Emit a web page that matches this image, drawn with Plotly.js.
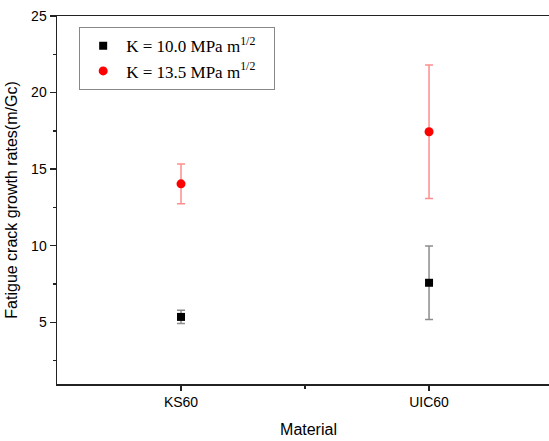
<!DOCTYPE html>
<html>
<head>
<meta charset="utf-8">
<script src="https://cdn.plot.ly/plotly-3.0.1.min.js"></script>
<style>html,body{margin:0;padding:0;background:#fff;overflow:hidden;width:549px;height:441px}#wrap{width:549px;height:441px;overflow:hidden}</style>
</head>
<body>
<div id="wrap"><div id="chart" style="width:560px;height:441px"></div></div>
<script>
const materials = ["KS60", "UIC60"];
const materialPos = [1, 2];
const seriesNames = ["K = 10.0 MPa m<sup>1/2</sup>&#160;&#160;&#160;", "K = 13.5 MPa m<sup>1/2</sup>&#160;&#160;&#160;"];
const rateK10 = [5.35, 7.58];
const errK10 = [0.43, 2.4];
const rateK135 = [14.04, 17.44];
const errK135 = [1.3, 4.36];

const traces = [
  {
    x: materialPos, y: rateK10, name: seriesNames[0], type: "scatter", mode: "markers", legendgroup: "a",
    marker: {symbol: "square", size: 8, color: "#000"},
    error_y: {type: "data", array: errK10, visible: true, color: "rgba(0,0,0,0.45)", thickness: 1.5, width: 4}
  },
  {
    x: materialPos, y: rateK135, name: seriesNames[1], type: "scatter", mode: "markers", legendgroup: "b",
    marker: {symbol: "circle", size: 9, color: "#ff0000"},
    error_y: {type: "data", array: errK135, visible: true, color: "rgba(255,0,0,0.45)", thickness: 1.5, width: 4}
  }
];

const layout = {
  width: 560, height: 441,
  margin: {l: 57, r: 0, t: 16, b: 57},
  paper_bgcolor: "#fff", plot_bgcolor: "#fff",
  showlegend: true,
  legend: {
    x: 0.0437, y: 0.97, xanchor: "left", yanchor: "top",
    bordercolor: "#888", borderwidth: 1.2, bgcolor: "#fff",
    font: {family: "Liberation Serif, Times New Roman, serif", size: 17, color: "#000"},
    itemwidth: 36, tracegroupgap: 0
  },
  xaxis: {
    range: [0.5, 2.528],
    tickmode: "array", tickvals: materialPos, ticktext: materials,
    ticks: "outside", ticklen: 5, tickwidth: 1.5, tickcolor: "#222",
    minor: {tickmode: "array", tickvals: [1.5], ticks: "outside", ticklen: 3, tickwidth: 1.5, tickcolor: "#222"},
    showline: true, linecolor: "#222", linewidth: 1.5, mirror: true,
    showgrid: false, zeroline: false,
    tickfont: {family: "Liberation Sans, Arial, sans-serif", size: 14, color: "#000"},
    title: {text: "Material", font: {family: "Liberation Sans, Arial, sans-serif", size: 16, color: "#000"}, standoff: 14}
  },
  yaxis: {
    range: [0.97, 25],
    tickmode: "array", tickvals: [5, 10, 15, 20, 25],
    ticks: "outside", ticklen: 6, tickwidth: 1.5, tickcolor: "#222",
    minor: {tickmode: "array", tickvals: [2.5, 7.5, 12.5, 17.5, 22.5], ticks: "outside", ticklen: 3, tickwidth: 1.5, tickcolor: "#222"},
    showline: true, linecolor: "#222", linewidth: 1.5, mirror: false,
    showgrid: false, zeroline: false,
    tickfont: {family: "Liberation Sans, Arial, sans-serif", size: 14, color: "#000"},
    title: {text: "Fatigue crack growth rates(m/Gc)", font: {family: "Liberation Sans, Arial, sans-serif", size: 16, color: "#000"}, standoff: 9}
  }
};

Plotly.newPlot("chart", traces, layout, {displayModeBar: false, staticPlot: true});
</script>
</body>
</html>
